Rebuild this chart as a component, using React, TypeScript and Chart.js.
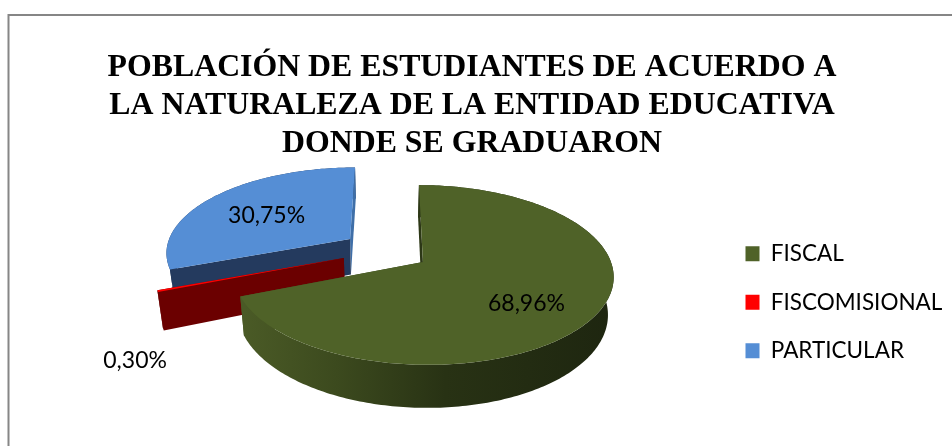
import React, { useEffect, useRef } from "react";
import { Chart, registerables } from "chart.js";

Chart.register(...registerables);

const categories = ["FISCAL", "FISCOMISIONAL", "PARTICULAR"];
const shares = [68.96, 0.3, 30.75];
const topColors = ["#4F6228", "#FF0000", "#558ED5"];
const titleLines = [
  "POBLACIÓN DE ESTUDIANTES DE ACUERDO A",
  "LA NATURALEZA DE LA ENTIDAD EDUCATIVA",
  "DONDE SE GRADUARON",
];

const EXPLOSION = 0.24;
const DRAW_ORDER = [2, 1, 0];
const LABEL_FONT = "Lato, sans-serif";

const view = {
  ax: 423, ay: 262, rx: 188, ry: 88, shear: 4.6, persp: -0.144,
  originU: 0.199, originV: 0.134, depth: 36.8, narrow: 0.025, axisX: 385,
};

// where each percentage sits, in pie radii from its own slice's tip
const labelSpots: [number, number][] = [
  [0.505, 0.44],
  [-0.92, 1.01],
  [-0.49, -0.3],
];

function project(U: number, V: number, t = 0) {
  const u = U - view.originU;
  const v = V - view.originV;
  const w = 1 + view.persp * v;
  let x = view.ax + (view.rx * u + view.shear * v) / w;
  const y = view.ay + (view.ry * v) / w + (t * view.depth) / w;
  x += t * view.narrow * (view.axisX - x);
  return { x, y };
}

function sideFill(ctx: CanvasRenderingContext2D, i: number) {
  if (i === 0) {
    const g = ctx.createLinearGradient(245, 0, 610, 0);
    g.addColorStop(0, "#4A5A26");
    g.addColorStop(0.25, "#3C4A1E");
    g.addColorStop(0.55, "#283214");
    g.addColorStop(1, "#1E2610");
    return g;
  }
  return i === 1 ? "#6B0000" : "#243A5E";
}

const pie3dPlugin = {
  id: "pie3d",
  beforeDraw(chart: any) {
    const { ctx, width, height } = chart;
    ctx.save();
    ctx.strokeStyle = "#868686";
    ctx.lineWidth = 2;
    ctx.beginPath();
    ctx.moveTo(8.5, height + 5);
    ctx.lineTo(8.5, 15);
    ctx.lineTo(width + 5, 15);
    ctx.stroke();
    ctx.restore();
  },
  beforeDatasetDraw(chart: any) {
    const { ctx } = chart;
    const arcs = chart.getDatasetMeta(0).data;
    ctx.save();
    for (const i of DRAW_ORDER) {
      const arc = arcs[i];
      const { startAngle, endAngle } = arc.getProps(["startAngle", "endAngle"], true);
      const mid = (startAngle + endAngle) / 2;
      const tip: [number, number] = [EXPLOSION * Math.cos(mid), EXPLOSION * Math.sin(mid)];
      const rim: [number, number][] = [];
      const steps = Math.max(2, Math.ceil(((endAngle - startAngle) * 180) / Math.PI));
      for (let s = 0; s <= steps; s++) {
        const a = startAngle + ((endAngle - startAngle) * s) / steps;
        rim.push([tip[0] + Math.cos(a), tip[1] + Math.sin(a)]);
      }
      const side = sideFill(ctx, i);
      const trace = (pts: { x: number; y: number }[], style: any) => {
        ctx.beginPath();
        pts.forEach((p, k) => (k === 0 ? ctx.moveTo(p.x, p.y) : ctx.lineTo(p.x, p.y)));
        ctx.closePath();
        ctx.fillStyle = style;
        ctx.fill();
      };
      const wall = (pts: [number, number][], style: any) => {
        const upper = pts.map(([U, V]) => project(U, V, 0));
        const lower = pts.map(([U, V]) => project(U, V, 1)).reverse();
        trace(upper.concat(lower), style);
      };
      wall(rim, side);
      wall([rim[rim.length - 1], tip], i === 2 ? "#3F6FA8" : side);
      wall([tip, rim[0]], side);
      const top = [tip, ...rim].map(([U, V]) => project(U, V, 0));
      trace(top, arc.options.backgroundColor);
    }
    ctx.restore();
    return false;
  },
  afterDatasetsDraw(chart: any) {
    const { ctx } = chart;
    const arcs = chart.getDatasetMeta(0).data;
    ctx.save();
    ctx.font = `23px ${LABEL_FONT}`;
    ctx.fillStyle = "#000";
    ctx.textAlign = "center";
    ctx.textBaseline = "middle";
    arcs.forEach((arc: any, i: number) => {
      const { startAngle, endAngle } = arc.getProps(["startAngle", "endAngle"], true);
      const mid = (startAngle + endAngle) / 2;
      const U = EXPLOSION * Math.cos(mid) + labelSpots[i][0];
      const V = EXPLOSION * Math.sin(mid) + labelSpots[i][1];
      const p = project(U, V);
      ctx.fillText(shares[i].toFixed(2).replace(".", ",") + "%", p.x, p.y);
    });
    ctx.restore();
  },
  afterLayout(chart: any) {
    const legend = chart.legend;
    const pad = legend.options.labels.padding;
    const w = legend.width;
    const h = legend.height;
    legend.left = 745.5 - pad;
    legend.right = legend.left + w;
    legend.top = 242.5 - pad;
    legend.bottom = legend.top + h;
  },
};

export default function App() {
  const ref = useRef<HTMLCanvasElement>(null);
  useEffect(() => {
    document.body.style.margin = "0";
    const chart = new Chart(ref.current!, {
      type: "pie",
      data: {
        labels: categories,
        datasets: [{ data: shares, backgroundColor: topColors, borderWidth: 0 }],
      },
      options: {
        responsive: false,
        animation: false,
        layout: { padding: { left: 0, right: 8, top: 49, bottom: 0 } },
        plugins: {
          title: {
            display: true,
            text: titleLines,
            color: "#000",
            font: { family: "'Liberation Serif'", size: 31.8, weight: "bold", lineHeight: 1.19 },
            padding: { top: 0, bottom: 10 },
          },
          legend: {
            position: "right",
            align: "start",
            labels: {
              boxWidth: 14,
              boxHeight: 15,
              padding: 26,
              color: "#000",
              font: { family: LABEL_FONT, size: 22.5 },
            },
          },
          tooltip: { enabled: false },
        },
      },
      plugins: [pie3dPlugin],
    } as any);
    return () => chart.destroy();
  }, []);
  return (
    <canvas
      ref={ref}
      width={952}
      height={446}
      style={{ display: "block", width: 952, height: 446 }}
    />
  );
}
